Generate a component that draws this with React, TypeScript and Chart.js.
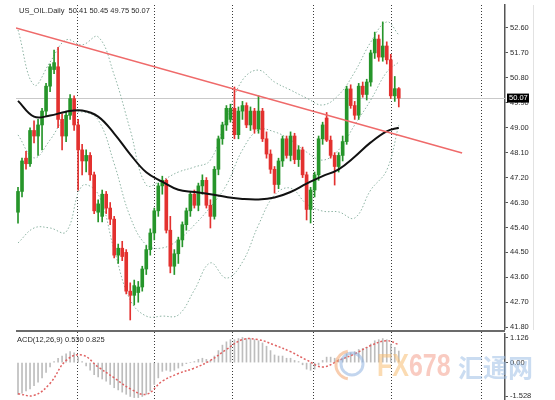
import { useEffect, useRef } from 'react';
import { Chart, registerables } from 'chart.js';
Chart.register(...registerables);

const titleText = 'US_OIL.Daily  50.41 50.45 49.75 50.07';
const macdTitle = 'ACD(12,26,9) 0.530 0.825';

const opens = [45.95, 46.70, 47.90, 47.70, 48.90, 48.70, 49.10, 49.60, 50.50, 51.10,
  51.20, 49.30, 48.70, 49.45, 50.05, 49.10, 48.20, 47.80, 48.00, 47.30,
  45.95, 45.80, 46.60, 46.10, 45.70, 44.40, 44.65, 44.50, 43.10, 42.95,
  43.05, 43.25, 43.90, 44.60, 45.20, 46.00, 46.90, 47.10, 45.30, 44.00,
  44.45, 44.95, 45.50, 46.00, 46.60, 46.20, 46.90, 47.10, 46.20, 45.80,
  47.50, 48.60, 49.10, 49.30, 49.70, 48.75, 49.60, 49.80, 49.10, 49.60,
  48.95, 49.60, 48.60, 48.05, 47.50, 46.95, 47.80, 48.60, 48.00, 48.70,
  47.85, 48.20, 47.30, 46.05, 46.75, 47.30, 48.60, 49.35, 48.55, 48.00,
  47.60, 48.00, 48.50, 50.40, 49.80, 49.45, 50.50, 50.20, 50.65, 51.70,
  52.20, 51.55, 51.95, 51.45, 50.15, 50.41];
const highs = [46.85, 47.90, 48.15, 49.00, 49.25, 49.30, 49.70, 50.60, 51.30, 51.80,
  51.90, 49.50, 49.60, 50.20, 50.15, 49.30, 48.40, 48.20, 48.10, 47.40,
  46.40, 46.75, 46.70, 46.30, 45.80, 44.80, 44.90, 44.60, 43.40, 43.50,
  43.45, 44.00, 44.75, 45.35, 46.10, 47.00, 47.25, 47.15, 45.80, 44.60,
  45.05, 45.60, 46.10, 46.70, 46.75, 47.00, 47.30, 47.20, 46.40, 47.60,
  48.70, 49.20, 49.80, 49.85, 50.47, 49.75, 49.95, 49.90, 49.75, 49.70,
  50.15, 49.70, 48.85, 48.20, 47.60, 47.90, 48.70, 48.70, 48.85, 48.80,
  48.35, 48.30, 47.40, 46.85, 47.40, 48.70, 49.20, 49.55, 48.70, 48.10,
  48.10, 48.70, 50.50, 50.55, 49.95, 50.60, 50.65, 50.75, 51.80, 52.45,
  52.35, 52.82, 52.10, 51.65, 50.85, 50.45];
const lows = [45.55, 46.50, 47.50, 47.60, 48.45, 48.00, 48.20, 49.40, 50.30, 50.95,
  49.00, 48.20, 48.50, 49.30, 48.90, 46.75, 47.30, 47.40, 47.10, 45.90,
  45.60, 45.60, 45.90, 45.50, 44.30, 44.10, 44.20, 43.00, 42.06, 42.60,
  42.70, 43.10, 43.70, 44.40, 44.95, 45.80, 46.60, 45.20, 43.76, 43.70,
  44.10, 44.70, 45.30, 45.80, 46.10, 46.00, 46.60, 46.10, 45.38, 45.70,
  47.30, 48.40, 48.90, 49.20, 48.60, 48.60, 49.30, 49.00, 48.90, 48.80,
  48.80, 48.50, 47.90, 47.35, 46.64, 46.80, 47.60, 47.90, 47.80, 47.70,
  47.60, 47.20, 45.67, 45.56, 46.50, 47.10, 48.40, 48.50, 47.90, 46.93,
  47.40, 47.80, 48.40, 49.70, 49.30, 49.30, 50.10, 50.00, 50.50, 51.50,
  51.40, 51.40, 51.30, 50.05, 49.95, 49.75];
const closes = [46.70, 47.80, 47.70, 48.90, 48.70, 49.10, 49.60, 50.50, 51.20, 51.35,
  49.30, 48.70, 49.45, 50.05, 49.10, 48.20, 47.80, 48.00, 47.30, 46.00,
  46.25, 46.60, 46.10, 45.70, 44.40, 44.65, 44.35, 43.10, 42.95, 43.30,
  43.25, 43.90, 44.60, 45.20, 46.00, 46.90, 47.10, 45.30, 44.00, 44.45,
  44.95, 45.50, 46.00, 46.60, 46.20, 46.90, 47.10, 46.20, 45.80, 47.50,
  48.60, 49.10, 49.70, 49.70, 48.75, 49.60, 49.80, 49.10, 49.60, 48.95,
  49.60, 48.60, 48.05, 47.50, 46.95, 47.80, 48.60, 48.00, 48.70, 47.85,
  48.20, 47.30, 46.05, 46.75, 47.30, 48.60, 49.10, 48.55, 48.00, 47.60,
  48.00, 48.50, 50.40, 49.80, 49.45, 50.50, 50.20, 50.65, 51.70, 52.20,
  51.55, 51.95, 51.45, 50.15, 50.41, 50.07];

const macdHist = [-1.45, -1.4, -1.3, -1.2, -1.05, -0.9, -0.7, -0.45, -0.2, 0.05,
  0.2, 0.3, 0.4, 0.5, 0.45, 0.25, 0.05, -0.15, -0.35, -0.55,
  -0.65, -0.75, -0.85, -1.0, -1.15, -1.25, -1.35, -1.45, -1.55, -1.6,
  -1.6, -1.55, -1.45, -1.3, -1.0, -0.7, -0.4, -0.35, -0.4, -0.35,
  -0.25, -0.15, -0.05, 0.0, 0.05, 0.15, 0.2, 0.15, 0.1, 0.3,
  0.55, 0.8, 0.95, 1.05, 1.05, 1.1, 1.15, 1.1, 1.1, 1.05,
  1.0, 0.9, 0.75, 0.55, 0.35, 0.3, 0.3, 0.2, 0.2, 0.1,
  0.05, -0.1, -0.3, -0.35, -0.3, -0.1, 0.1, 0.25, 0.25, 0.2,
  0.15, 0.2, 0.4, 0.45, 0.5, 0.6, 0.65, 0.7, 0.85, 1.0,
  1.05, 1.1, 1.05, 0.85, 0.7, 0.53];

const sampleIdx = [0, 4, 8, 12, 16, 20, 24, 28, 32, 36, 40, 44, 48, 52, 56, 60, 64, 68, 72, 76, 80, 84, 88, 92, 95];
const maLine = [49.97, 49.40, 49.44, 49.58, 49.62, 49.40, 48.79, 48.04, 47.39, 47.05, 46.76, 46.68, 46.60,
  46.50, 46.43, 46.41, 46.48, 46.68, 46.98, 47.25, 47.50, 47.95, 48.47, 48.87, 49.00];
const bbUpper = [52.53, 50.54, 51.37, 52.17, 51.99, 52.28, 50.90, 48.92, 46.93, 47.11, 47.40, 47.58, 47.83,
  49.35, 50.72, 51.08, 50.65, 50.36, 50.07, 49.82, 50.18, 51.01, 52.09, 52.82, 52.35];
const bbMiddle = [48.74, 47.91, 48.56, 49.39, 49.57, 49.28, 47.70, 45.78, 44.77, 44.66, 44.95, 45.49, 46.14,
  46.93, 48.20, 48.92, 48.85, 48.56, 48.12, 47.83, 48.20, 49.10, 50.00, 51.01, 51.37];
const bbLower = [44.84, 45.38, 45.38, 45.24, 46.90, 46.60, 44.59, 42.78, 42.20, 42.20, 42.24, 43.14, 44.12,
  43.57, 44.15, 45.49, 46.57, 46.82, 46.25, 45.99, 45.96, 45.74, 46.75, 47.47, 49.10];
const signalLine = [-1.42, -1.5, -0.95, 0.1, 0.35, -0.2, -0.7, -1.2, -1.45, -0.85, -0.5, -0.25, 0.1,
  0.6, 1.05, 1.05, 0.8, 0.5, 0.12, -0.2, 0.1, 0.4, 0.78, 1.0, 0.825];

const trendIdx = [-0.5, 110.8];
const trendPrice = [52.60, 48.09];
const gridIdx = [14.72, 33.93, 53.39, 73.6, 93.06, 115.5];

const priceTicks = [41.8, 42.7, 43.6, 44.5, 45.4, 46.3, 47.2, 48.1, 49.0, 49.9, 50.8, 51.7, 52.6];
const macdTicks = [-1.528, 0, 1.126];
const macdTickLabels = ['-1.528', '0.00', '1.126'];
const lastPrice = 50.07;

const X_MIN = -0.5;
const X_MAX = 121.5;
const GREEN = '#26952a';
const RED = '#e3312f';
const BAND = '#8db3a3';
const FONT = '"Liberation Sans", Arial, sans-serif';

const fitRight = (scale: any) => {
  scale.width = 50;
  scale.paddingTop = 0;
  scale.paddingBottom = 0;
};

function drawVGrid(chart: any, top: number, bottom: number) {
  const { ctx, scales } = chart;
  ctx.save();
  ctx.strokeStyle = '#3a3a3a';
  ctx.lineWidth = 1;
  ctx.setLineDash([1, 2]);
  gridIdx.forEach((g) => {
    const px = Math.round(scales.x.getPixelForValue(g)) + 0.5;
    ctx.beginPath();
    ctx.moveTo(px, top);
    ctx.lineTo(px, bottom);
    ctx.stroke();
  });
  ctx.restore();
}

export default function App() {
  const mainRef = useRef<HTMLCanvasElement>(null);
  const macdRef = useRef<HTMLCanvasElement>(null);

  useEffect(() => {
    const idx = closes.map((_, i) => i);
    const colors = idx.map((i) => (closes[i] >= opens[i] ? GREEN : RED));
    const pts = (arr: number[]) => sampleIdx.map((x, k) => ({ x, y: arr[k] }));

    const mainPlugin = {
      id: 'mainDecor',
      beforeDatasetsDraw(chart: any) {
        const { ctx, chartArea, scales } = chart;
        drawVGrid(chart, chartArea.top, chartArea.bottom);
        const py = Math.round(scales.y.getPixelForValue(lastPrice)) + 0.5;
        ctx.save();
        ctx.strokeStyle = '#c9c9c9';
        ctx.lineWidth = 1;
        ctx.beginPath();
        ctx.moveTo(chartArea.left, py);
        ctx.lineTo(chartArea.right, py);
        ctx.stroke();
        ctx.restore();
      },
      afterDraw(chart: any) {
        const { ctx, chartArea, scales } = chart;
        ctx.save();
        ctx.font = `7.5px ${FONT}`;
        ctx.fillStyle = '#2a2a2a';
        ctx.textBaseline = 'middle';
        ctx.fillText(titleText, chartArea.left + 3, 11);
        const py = scales.y.getPixelForValue(lastPrice);
        ctx.fillStyle = '#000';
        ctx.fillRect(chartArea.right + 2, py - 4.5, 22, 9);
        ctx.fillStyle = '#fff';
        ctx.fillText(lastPrice.toFixed(2), chartArea.right + 4, py);
        ctx.strokeStyle = '#e2e2e2';
        ctx.beginPath();
        ctx.moveTo(533.5, chartArea.top);
        ctx.lineTo(533.5, 330);
        ctx.stroke();
        ctx.restore();
      },
    };

    const main = new Chart(mainRef.current!, {
      type: 'bar',
      data: {
        datasets: [
          { type: 'line', label: 'Trend', data: trendIdx.map((x, k) => ({ x, y: trendPrice[k] })), borderColor: '#ef6a6a', borderWidth: 1.5, pointRadius: 0, order: 0 } as any,
          { type: 'line', label: 'MA', data: pts(maLine), borderColor: '#111', borderWidth: 2, pointRadius: 0, tension: 0.4, order: 0 } as any,
          { type: 'line', label: 'Upper', data: pts(bbUpper), borderColor: BAND, borderWidth: 1, borderDash: [1.5, 2], pointRadius: 0, tension: 0.4, order: 4 } as any,
          { type: 'line', label: 'Middle', data: pts(bbMiddle), borderColor: BAND, borderWidth: 1, borderDash: [1.5, 2], pointRadius: 0, tension: 0.4, order: 4 } as any,
          { type: 'line', label: 'Lower', data: pts(bbLower), borderColor: BAND, borderWidth: 1, borderDash: [1.5, 2], pointRadius: 0, tension: 0.4, order: 4 } as any,
          { type: 'bar', label: 'Body', data: idx.map((i) => ({ x: i, y: [opens[i], closes[i]] })), backgroundColor: colors, barThickness: 3, grouped: false, order: 1 } as any,
          { type: 'bar', label: 'Wick', data: idx.map((i) => ({ x: i, y: [lows[i], highs[i]] })), backgroundColor: colors, barThickness: 1, grouped: false, order: 2 } as any,
        ],
      },
      options: {
        animation: false,
        responsive: false,
        devicePixelRatio: 1,
        layout: { padding: { left: 16, top: 5, bottom: 1, right: 0 } },
        plugins: { legend: { display: false }, tooltip: { enabled: false } },
        scales: {
          x: { type: 'linear', display: false, min: X_MIN, max: X_MAX, offset: false },
          y: {
            position: 'right',
            min: 41.734,
            max: 53.43,
            afterFit: fitRight,
            afterBuildTicks: (s: any) => { s.ticks = priceTicks.map((v) => ({ value: v })); },
            ticks: { callback: (v: any) => Number(v).toFixed(2), color: '#2a2a2a', font: { size: 7.5, family: FONT }, padding: 2 },
            grid: { drawOnChartArea: false, drawTicks: true, tickLength: 3, tickColor: '#555' },
            border: { display: true, color: '#555', width: 1.5 },
          },
        },
      } as any,
      plugins: [mainPlugin],
    });

    const macdPlugin = {
      id: 'macdDecor',
      beforeDatasetsDraw(chart: any) {
        const { ctx, chartArea } = chart;
        ctx.save();
        ctx.fillStyle = '#6b6b6b';
        ctx.fillRect(chartArea.left, 0, chartArea.right - chartArea.left, 2);
        ctx.restore();
        drawVGrid(chart, 2, chartArea.bottom);
      },
      afterDraw(chart: any) {
        const { ctx, chartArea } = chart;
        ctx.save();
        ctx.font = `7.5px ${FONT}`;
        ctx.fillStyle = '#2a2a2a';
        ctx.textBaseline = 'middle';
        ctx.fillText(macdTitle, chartArea.left + 1, 10);
        // watermark
        ctx.globalAlpha = 0.55;
        ctx.lineWidth = 3;
        ctx.strokeStyle = '#8fb3e0';
        ctx.beginPath();
        ctx.arc(352, 34, 11, 0, Math.PI * 2);
        ctx.stroke();
        ctx.strokeStyle = '#f2a46e';
        ctx.beginPath();
        ctx.arc(350, 35, 14, Math.PI * 0.55, Math.PI * 1.45);
        ctx.stroke();
        ctx.translate(377, 46);
        ctx.scale(1, 1.25);
        ctx.font = `bold 25px ${FONT}`;
        ctx.textBaseline = 'alphabetic';
        ctx.fillStyle = '#f7bd72';
        ctx.fillText('FX', 0, 0);
        const w = ctx.measureText('FX').width;
        ctx.fillStyle = '#f4a08e';
        ctx.fillText('678', w, 0);
        ctx.setTransform(1, 0, 0, 1, 0, 0);
        ctx.font = `bold 25px "Noto Sans CJK SC", sans-serif`;
        ctx.fillStyle = '#9fc0e6';
        ctx.textBaseline = 'alphabetic';
        ctx.fillText('汇通网', 458, 47);
        ctx.restore();
      },
    };

    const macd = new Chart(macdRef.current!, {
      type: 'bar',
      data: {
        datasets: [
          { type: 'line', label: 'Signal', data: pts(signalLine), borderColor: '#e06262', borderWidth: 1.5, borderDash: [2, 2], pointRadius: 0, tension: 0.4, order: 0 } as any,
          { type: 'bar', label: 'MACD', data: idx.map((i) => ({ x: i, y: macdHist[i] })), backgroundColor: '#bdbdbd', barThickness: 1, grouped: false, order: 1 } as any,
        ],
      },
      options: {
        animation: false,
        responsive: false,
        devicePixelRatio: 1,
        layout: { padding: { left: 16, top: 4, bottom: 0, right: 0 } },
        plugins: { legend: { display: false }, tooltip: { enabled: false } },
        scales: {
          x: { type: 'linear', display: false, min: X_MIN, max: X_MAX, offset: false },
          y: {
            position: 'right',
            min: -1.711,
            max: 1.309,
            afterFit: fitRight,
            afterBuildTicks: (s: any) => { s.ticks = macdTicks.map((v) => ({ value: v })); },
            ticks: { callback: (_v: any, i: number) => macdTickLabels[i], color: '#2a2a2a', font: { size: 7.5, family: FONT }, padding: 2 },
            grid: { drawOnChartArea: false, drawTicks: true, tickLength: 3, tickColor: '#555' },
            border: { display: true, color: '#555', width: 1.5 },
          },
        },
      } as any,
      plugins: [macdPlugin],
    });

    return () => {
      main.destroy();
      macd.destroy();
    };
  }, []);

  return (
    <div style={{ position: 'fixed', left: 0, top: 0, width: 555, height: 400, background: '#fff' }}>
      <canvas ref={mainRef} width={555} height={330} style={{ display: 'block' }} />
      <canvas ref={macdRef} width={555} height={70} style={{ display: 'block' }} />
    </div>
  );
}
